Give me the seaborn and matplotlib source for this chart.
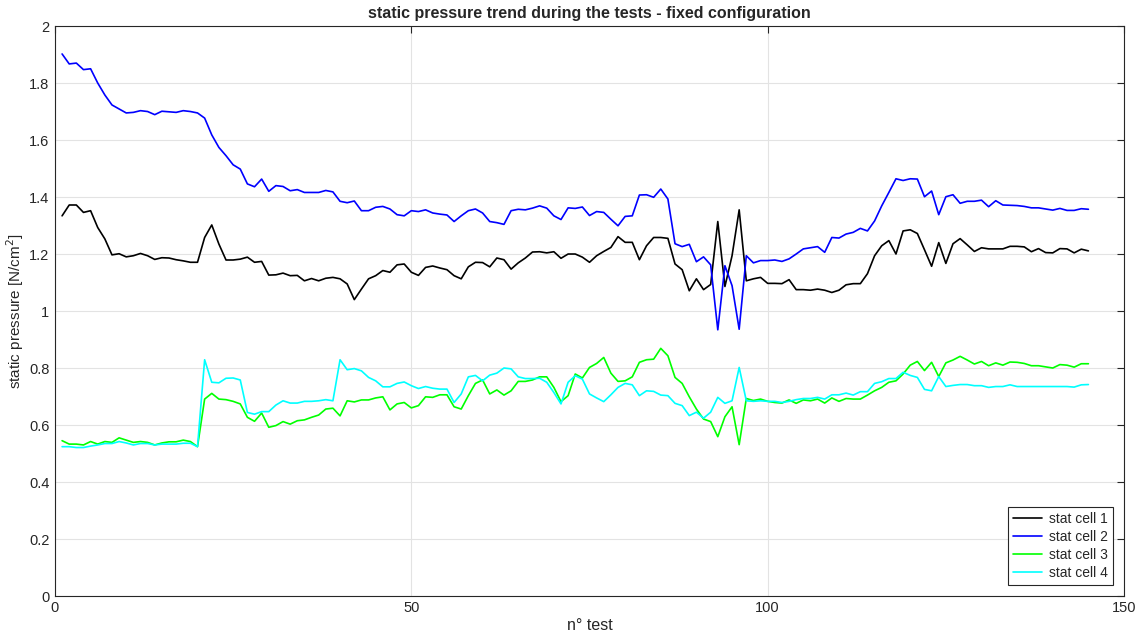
import numpy as np
import pandas as pd
import seaborn as sns
import matplotlib.pyplot as plt
from matplotlib.ticker import FuncFormatter

# valori, test 1..145
cell1 = [1.334, 1.372, 1.372, 1.346, 1.352, 1.293, 1.253, 1.197, 1.201, 1.190,
         1.194, 1.202, 1.194, 1.181, 1.187, 1.186, 1.180, 1.176, 1.171, 1.171,
         1.258, 1.302, 1.235, 1.179, 1.179, 1.182, 1.189, 1.171, 1.174, 1.126,
         1.127, 1.133, 1.124, 1.125, 1.106, 1.114, 1.106, 1.115, 1.118, 1.113,
         1.095, 1.040, 1.077, 1.113, 1.124, 1.142, 1.136, 1.162, 1.165, 1.136,
         1.125, 1.153, 1.158, 1.151, 1.145, 1.124, 1.113, 1.155, 1.171, 1.170,
         1.155, 1.186, 1.180, 1.147, 1.169, 1.186, 1.207, 1.208, 1.204, 1.208,
         1.185, 1.200, 1.200, 1.189, 1.171, 1.194, 1.209, 1.223, 1.261, 1.241,
         1.241, 1.180, 1.229, 1.258, 1.258, 1.255, 1.165, 1.145, 1.071, 1.113,
         1.075, 1.093, 1.314, 1.086, 1.194, 1.355, 1.106, 1.113, 1.118, 1.097,
         1.097, 1.096, 1.110, 1.075, 1.075, 1.073, 1.077, 1.073, 1.065, 1.073,
         1.092, 1.096, 1.096, 1.131, 1.194, 1.229, 1.247, 1.200, 1.281, 1.285,
         1.272, 1.215, 1.157, 1.240, 1.167, 1.236, 1.254, 1.232, 1.209, 1.222,
         1.218, 1.218, 1.218, 1.227, 1.227, 1.225, 1.208, 1.219, 1.205, 1.204,
         1.219, 1.218, 1.204, 1.217, 1.211]

cell2 = [1.902, 1.867, 1.870, 1.847, 1.850, 1.800, 1.758, 1.723, 1.709, 1.695,
         1.697, 1.703, 1.700, 1.689, 1.701, 1.699, 1.697, 1.703, 1.700, 1.695,
         1.677, 1.618, 1.574, 1.545, 1.513, 1.498, 1.446, 1.436, 1.463, 1.420,
         1.440, 1.437, 1.422, 1.426, 1.416, 1.416, 1.416, 1.423, 1.418, 1.385,
         1.380, 1.386, 1.352, 1.352, 1.364, 1.367, 1.358, 1.338, 1.334, 1.352,
         1.349, 1.355, 1.344, 1.340, 1.337, 1.314, 1.334, 1.352, 1.358, 1.344,
         1.314, 1.310, 1.304, 1.352, 1.357, 1.355, 1.361, 1.369, 1.361, 1.334,
         1.321, 1.362, 1.360, 1.365, 1.335, 1.349, 1.346, 1.322, 1.299, 1.332,
         1.334, 1.407, 1.408, 1.399, 1.428, 1.393, 1.236, 1.226, 1.234, 1.173,
         1.190, 1.162, 0.934, 1.159, 1.089, 0.936, 1.194, 1.169, 1.177, 1.177,
         1.179, 1.174, 1.183, 1.200, 1.218, 1.222, 1.226, 1.206, 1.258, 1.256,
         1.270, 1.276, 1.290, 1.281, 1.316, 1.369, 1.416, 1.464, 1.458, 1.464,
         1.463, 1.401, 1.421, 1.338, 1.401, 1.408, 1.378, 1.385, 1.385, 1.389,
         1.366, 1.387, 1.372, 1.371, 1.370, 1.367, 1.362, 1.362, 1.358, 1.354,
         1.360, 1.353, 1.353, 1.359, 1.357]

cell3 = [0.545, 0.533, 0.533, 0.530, 0.542, 0.533, 0.542, 0.539, 0.555, 0.547,
         0.539, 0.542, 0.539, 0.530, 0.537, 0.541, 0.541, 0.547, 0.542, 0.524,
         0.691, 0.711, 0.691, 0.689, 0.683, 0.674, 0.627, 0.613, 0.642, 0.592,
         0.598, 0.612, 0.603, 0.615, 0.618, 0.627, 0.635, 0.656, 0.659, 0.632,
         0.685, 0.681, 0.688, 0.688, 0.695, 0.699, 0.653, 0.674, 0.679, 0.660,
         0.668, 0.699, 0.697, 0.706, 0.706, 0.664, 0.656, 0.703, 0.746, 0.758,
         0.709, 0.723, 0.705, 0.720, 0.753, 0.753, 0.758, 0.769, 0.769, 0.732,
         0.682, 0.703, 0.779, 0.765, 0.802, 0.816, 0.837, 0.782, 0.753, 0.755,
         0.769, 0.820, 0.829, 0.831, 0.869, 0.843, 0.767, 0.746, 0.699, 0.656,
         0.621, 0.612, 0.559, 0.629, 0.664, 0.531, 0.693, 0.686, 0.691, 0.683,
         0.679, 0.677, 0.688, 0.676, 0.688, 0.685, 0.691, 0.677, 0.695, 0.683,
         0.693, 0.691, 0.691, 0.705, 0.720, 0.732, 0.750, 0.755, 0.779, 0.810,
         0.823, 0.791, 0.820, 0.770, 0.818, 0.828, 0.841, 0.828, 0.814, 0.823,
         0.808, 0.818, 0.810, 0.821, 0.820, 0.816, 0.808, 0.808, 0.804, 0.800,
         0.812, 0.810, 0.803, 0.815, 0.815]

cell4 = [0.524, 0.524, 0.521, 0.521, 0.526, 0.530, 0.535, 0.535, 0.542, 0.537,
         0.530, 0.535, 0.535, 0.530, 0.533, 0.533, 0.533, 0.536, 0.536, 0.524,
         0.829, 0.750, 0.748, 0.764, 0.765, 0.758, 0.644, 0.638, 0.647, 0.647,
         0.670, 0.685, 0.677, 0.677, 0.683, 0.683, 0.685, 0.689, 0.685, 0.829,
         0.794, 0.798, 0.790, 0.767, 0.755, 0.734, 0.734, 0.746, 0.751, 0.738,
         0.728, 0.735, 0.729, 0.726, 0.726, 0.679, 0.709, 0.769, 0.774, 0.755,
         0.775, 0.782, 0.800, 0.797, 0.769, 0.763, 0.763, 0.764, 0.750, 0.714,
         0.674, 0.750, 0.773, 0.761, 0.709, 0.695, 0.682, 0.706, 0.732, 0.746,
         0.741, 0.703, 0.720, 0.718, 0.705, 0.703, 0.676, 0.668, 0.633, 0.645,
         0.624, 0.645, 0.697, 0.676, 0.685, 0.802, 0.685, 0.683, 0.685, 0.683,
         0.683, 0.679, 0.683, 0.689, 0.693, 0.693, 0.697, 0.691, 0.706, 0.706,
         0.712, 0.705, 0.717, 0.717, 0.746, 0.752, 0.763, 0.763, 0.785, 0.774,
         0.767, 0.725, 0.720, 0.770, 0.735, 0.739, 0.742, 0.742, 0.738, 0.738,
         0.732, 0.735, 0.735, 0.741, 0.735, 0.735, 0.735, 0.735, 0.735, 0.735,
         0.735, 0.735, 0.733, 0.741, 0.742]

labels = ['stat cell 1', 'stat cell 2', 'stat cell 3', 'stat cell 4']
colori = ['#000000', '#0000ff', '#00ff00', '#00ffff']

test = np.arange(1, len(cell1) + 1)
df = pd.DataFrame({'test': test, labels[0]: cell1, labels[1]: cell2,
                   labels[2]: cell3, labels[3]: cell4})
df_long = df.melt(id_vars='test', var_name='serie', value_name='p')

sns.set_style("white")
plt.rcParams['font.family'] = ['Liberation Sans', 'DejaVu Sans']

fig = plt.figure(figsize=(11.45, 6.41), dpi=100)
ax = fig.add_axes([0.048, 0.0702, 0.9337, 0.8892])

sns.lineplot(data=df_long, x='test', y='p', hue='serie', hue_order=labels,
             palette=dict(zip(labels, colori)), linewidth=1.2, ax=ax)

ax.set_xlim(0, 150)
ax.set_ylim(0, 2)
ax.set_xticks([0, 50, 100, 150])
ax.set_yticks(np.arange(0, 2.01, 0.2))
ax.yaxis.set_major_formatter(FuncFormatter(lambda v, p: '%g' % round(v, 2)))
ax.grid(True, color='#e3e3e3', linewidth=0.8)
ax.set_axisbelow(True)
for s in ax.spines.values():
    s.set_color('#262626')
    s.set_linewidth(0.8)
ax.tick_params(direction='in', length=5, width=0.8, colors='#262626',
               labelsize=10.5, top=True, right=True, labelcolor='#262626')
ax.tick_params(axis='y', pad=4)

ax.set_xlabel("n° test", fontsize=11.5, color='#262626', labelpad=2)
ax.set_ylabel("static pressure [N/cm$^2$]", fontsize=11, color='#262626')
ax.yaxis.set_label_coords(-0.027, 0.5)
ax.set_title("static pressure trend during the tests - fixed configuration",
             fontsize=11.5, fontweight='bold', pad=6)

leg = ax.legend(loc='lower right', fontsize=10, frameon=True, fancybox=False,
                edgecolor='#262626', framealpha=1, borderaxespad=0.8,
                handlelength=2.1, handletextpad=0.5, labelspacing=0.3,
                borderpad=0.35)
leg.get_frame().set_linewidth(0.8)

plt.savefig("out.png", dpi=100)
